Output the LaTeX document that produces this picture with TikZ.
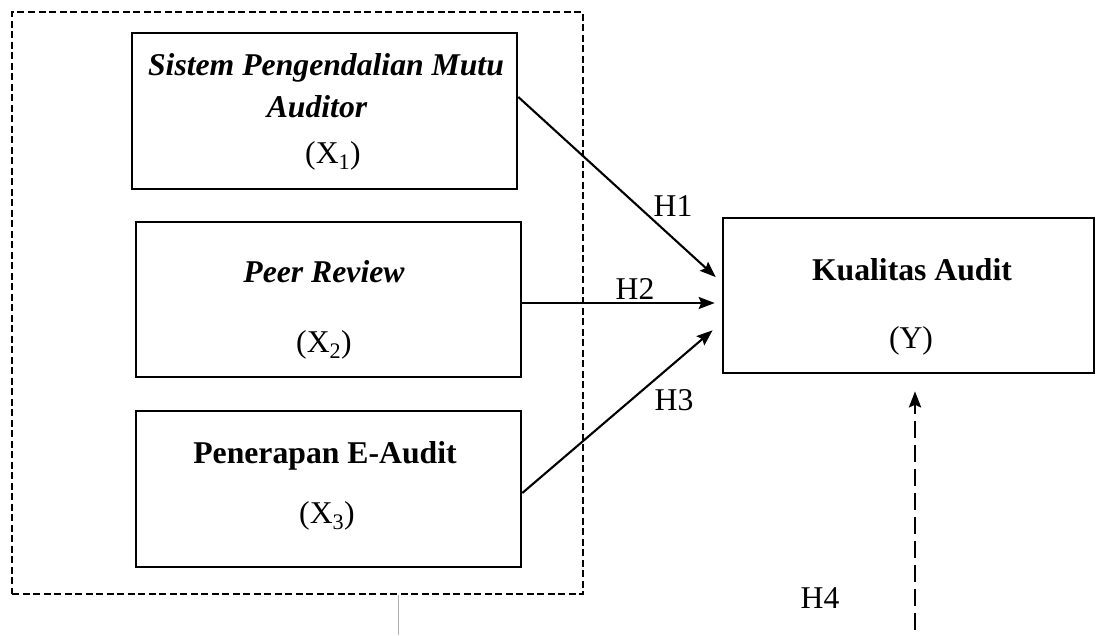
\documentclass[tikz,border=0pt]{standalone}
\usepackage{fontspec}
\setmainfont{Liberation Serif}
\usetikzlibrary{arrows.meta}
\begin{document}
\begin{tikzpicture}[x=1pt, y=-1pt, >={Stealth[length=16pt,width=12pt,inset=2.5pt]},
  kotak/.style={draw, line width=2.6pt, inner sep=0pt},
  teks/.style={anchor=base, inner sep=0pt, font=\fontsize{31.7}{38}\selectfont}]
\useasboundingbox (0,0) rectangle (1097,635);

% kelompok variabel independen
\node[kotak, line width=2.6pt, dash pattern=on 7pt off 3.5pt, minimum width=571, minimum height=582](grp) at (297.5,303){};

\node[kotak, minimum width=385, minimum height=156](x1) at (324.5,111){};
\node[kotak, minimum width=385, minimum height=155](x2) at (328.5,299.5){};
\node[kotak, minimum width=385, minimum height=156](x3) at (328.5,489){};
\node[kotak, minimum width=371, minimum height=155](y) at (908.5,295.5){};

\node[teks](nama1) at (326,75){\bfseries\itshape Sistem Pengendalian Mutu};
\node[teks](nama1b) at (317,117){\bfseries\itshape Auditor};
\node[teks](kode1) at (333,163){(X\textsubscript{1})};
\node[teks](nama2) at (324,282){\bfseries\itshape Peer Review};
\node[teks](kode2) at (324,352){(X\textsubscript{2})};
\node[teks](nama3) at (325,463){\bfseries Penerapan E-Audit};
\node[teks](kode3) at (327,523){(X\textsubscript{3})};
\node[teks](namay) at (912,280){\bfseries Kualitas Audit};
\node[teks](kodey) at (911,348){(Y)};

% hipotesis
\draw[->, line width=2.1pt, shorten >=8pt]([yshift=14pt]x1.east) -- ([yshift=13pt]y.west);
\draw[->, line width=2.1pt, shorten >=7pt]([yshift=-3.5pt]x2.east) -- ([yshift=-7.5pt]y.west);
\draw[->, line width=2.1pt, shorten >=12pt]([yshift=-4pt]x3.east) -- ([yshift=-27pt]y.west);

\coordinate (h4start) at (915,630);
\draw[->, line width=2.8pt, dash pattern=on 17pt off 7pt, shorten >=17pt](h4start) -- ([xshift=6.5pt]y.south);

\coordinate (stub) at (398,635);
\draw[gray!60, line width=1pt]([xshift=100.5pt]grp.south) -- (stub);

\foreach \n/\x/\y in {1/673/216, 2/635/299, 3/674/410, 4/820/608}
{
    \node[teks](h\n) at (\x,\y){H\n};
}
\end{tikzpicture}
\end{document}
